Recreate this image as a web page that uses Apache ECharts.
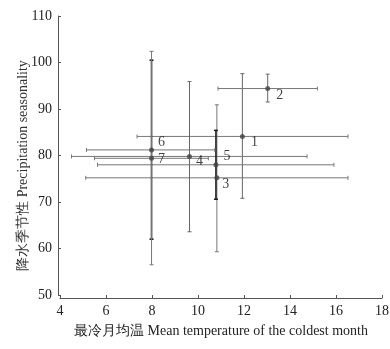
<!DOCTYPE html>
<html><head><meta charset="utf-8">
<script src="https://cdn.jsdelivr.net/npm/echarts@6/dist/echarts.min.js"></script>
<style>html,body{margin:0;padding:0;background:#fff}#c{width:390px;height:349px}</style>
</head><body><div id="c"></div>
<script>
var labels = ['1','2','3','4','5','6','7'];
var xMean = [11.93, 13.03, 10.82, 9.63, 10.78, 7.98, 7.98];
var yMean = [84.1, 94.4, 75.2, 79.8, 78.0, 81.2, 79.4];
var xLow  = [7.35, 10.87, 5.12, 4.50, 5.63, 5.15, 5.50];
var xHigh = [16.52, 15.19, 16.52, 14.74, 15.91, 10.73, 10.45];
var yLow  = [70.8, 91.5, 59.3, 63.6, 70.6, 62.0, 56.5];
var yHigh = [97.6, 97.5, 90.9, 95.9, 85.4, 100.5, 102.4];
var xTicks = [4,6,8,10,12,14,16,18];
var yTicks = [50,60,70,80,90,100,110];

var serif = '"Liberation Serif","Times New Roman",serif';
var lblOffset = [[9,6],[9,7],[6,7],[7,5],[8,-8],[7,-7],[7,2]];
var vStyle = [
  {c:'#666',w:1},{c:'#666',w:1},{c:'#777',w:1},{c:'#666',w:1},
  {c:'#222',w:1.6},{c:'#222',w:1.6},{c:'#777',w:1}
];

var errData = labels.map(function(l,i){return [xMean[i],yMean[i],xLow[i],xHigh[i],yLow[i],yHigh[i]];});
var ptData = labels.map(function(l,i){
  return {value:[xMean[i],yMean[i]], name:l,
    label:{show:true, formatter:l, position:[0,0], offset:[lblOffset[i][0]+2, lblOffset[i][1]+2], align:'left', verticalAlign:'middle'}};
});

var chart = echarts.init(document.getElementById('c'), null, {renderer:'canvas'});
chart.setOption({
  animation:false,
  backgroundColor:'#fff',
  grid:{left:60, right:8, top:16, bottom:54, outerBoundsMode:'none', containLabel:false},
  xAxis:{type:'value', min:xTicks[0], max:xTicks[xTicks.length-1], interval:2, offset:3,
    splitLine:{show:false},
    axisLine:{lineStyle:{color:'#555'}},
    axisTick:{inside:true,length:3,lineStyle:{color:'#555'}},
    axisLabel:{color:'#222', fontFamily:serif, fontSize:14, margin:6},
    name:'最冷月均温 Mean temperature of the coldest month', nameLocation:'middle', nameGap:26,
    nameTextStyle:{color:'#222', fontFamily:serif, fontSize:14}
  },
  yAxis:{type:'value', min:yTicks[0], max:yTicks[yTicks.length-1], interval:10, offset:2,
    splitLine:{show:false},
    axisLine:{lineStyle:{color:'#555'}},
    axisTick:{inside:true,length:3,lineStyle:{color:'#555'}},
    axisLabel:{color:'#222', fontFamily:serif, fontSize:14, margin:6},
    name:'降水季节性 Precipitation seasonality', nameLocation:'middle', nameGap:28, nameMoveOverlap:false,
    nameTextStyle:{color:'#333', fontFamily:serif, fontSize:14, padding:[0,20,0,0]}
  },
  series:[
    {type:'custom', data:errData, z:2,
     renderItem:function(params, api){
       var i = params.dataIndex;
       var l = api.coord([api.value(2), api.value(1)]);
       var r = api.coord([api.value(3), api.value(1)]);
       var b = api.coord([api.value(0), api.value(4)]);
       var t = api.coord([api.value(0), api.value(5)]);
       var h = {stroke:'#777', lineWidth:1};
       var v = {stroke:vStyle[i].c, lineWidth:vStyle[i].w};
       var cap = 2;
       return {type:'group', children:[
         {type:'line', shape:{x1:l[0],y1:l[1],x2:r[0],y2:r[1]}, style:h},
         {type:'line', shape:{x1:l[0],y1:l[1]-cap,x2:l[0],y2:l[1]+cap}, style:h},
         {type:'line', shape:{x1:r[0],y1:r[1]-cap,x2:r[0],y2:r[1]+cap}, style:h},
         {type:'line', shape:{x1:b[0],y1:b[1],x2:t[0],y2:t[1]}, style:v},
         {type:'line', shape:{x1:b[0]-cap,y1:b[1],x2:b[0]+cap,y2:b[1]}, style:v},
         {type:'line', shape:{x1:t[0]-cap,y1:t[1],x2:t[0]+cap,y2:t[1]}, style:v}
       ]};
     }
    },
    {type:'scatter', data:ptData, symbol:'circle', symbolSize:5, z:3,
     itemStyle:{color:'#444'},
     label:{color:'#111', fontFamily:serif, fontSize:14}
    }
  ]
});
</script></body></html>
